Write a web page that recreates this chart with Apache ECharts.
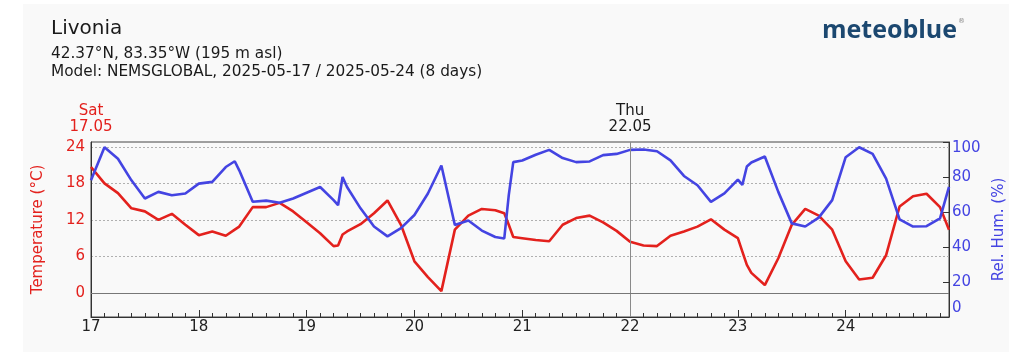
<!DOCTYPE html>
<html>
<head>
<meta charset="utf-8">
<script src="https://cdn.jsdelivr.net/npm/echarts@6/dist/echarts.min.js"></script>
<style>
  html, body { margin: 0; padding: 0; background: #ffffff; }
  #card { position: absolute; left: 23px; top: 4px; width: 986px; height: 348px; background: #f9f9f9; }
  #chart { position: absolute; left: 0; top: 0; width: 1024px; height: 352px; }
</style>
</head>
<body>
<div id="card"></div>
<div id="chart"></div>
<script>
// hours since 2025-05-17 00:00
var hours = [0, 3, 6, 9, 12, 15, 18, 21, 24, 27, 30, 32, 33, 36, 39, 42, 45, 48, 51, 54, 55, 56,
    57, 60, 63, 66, 69, 72, 75, 78, 81, 84, 87, 90, 92, 93, 94,
    96, 99, 102, 105, 108, 111, 114, 117, 120, 123, 126, 129, 132, 135, 138, 141, 144, 145, 146,
    147, 150, 153, 156, 159, 162, 165, 168, 171, 174, 177, 180, 183, 186, 189, 191];
var temperature = [20.7, 18.0, 16.4, 13.9, 13.4, 12.0, 13.0, 11.2, 9.5, 10.1, 9.4, 10.4, 10.9, 14.1, 14.1, 14.8, 13.4, 11.6, 9.8, 7.7, 7.8, 9.6,
    10.1, 11.3, 13.1, 15.2, 11.2, 5.2, 2.6, 0.3, 10.4, 12.7, 13.8, 13.6, 13.1, 11.2, 9.2,
    9.0, 8.7, 8.5, 11.2, 12.3, 12.7, 11.6, 10.2, 8.4, 7.8, 7.7, 9.4, 10.1, 10.9, 12.1, 10.4, 9.0, 6.8, 4.6,
    3.3, 1.3, 5.7, 11.2, 13.8, 12.7, 10.4, 5.2, 2.2, 2.5, 6.2, 14.2, 15.9, 16.3, 14.1, 10.4];
var humidity = [78.1, 97.0, 90.4, 78.1, 67.7, 71.5, 69.6, 70.6, 76.2, 77.2, 85.7, 89.0, 83.8, 65.9, 66.5, 65.3, 67.7, 71.0, 74.3, 66.8, 63.9, 80.0,
    74.3, 62.1, 51.7, 46.1, 50.8, 58.3, 70.6, 86.6, 52.6, 55.1, 49.4, 45.7, 44.9, 69.6, 88.5,
    89.4, 92.7, 95.5, 90.8, 88.5, 88.9, 92.5, 93.2, 95.5, 95.7, 94.7, 89.5, 80.6, 75.3, 65.8, 70.6, 78.5, 75.5, 86.0,
    88.3, 91.7, 71.5, 53.5, 51.7, 56.8, 66.8, 91.3, 97.0, 93.2, 79.1, 55.8, 51.7, 51.9, 56.4, 74.4];

var tempTicks = [0, 6, 12, 18, 24];
var humTicks = [0, 20, 40, 60, 80, 100];
var firstDay = 17;
var topLabelHours = [0, 120];
var topLabelDays = ['Sat', 'Thu'];
var topLabelDates = ['17.05', '22.05'];

var RED = '#e3211d';
var BLUE = '#4444e2';

var tempData = hours.map(function (h, i) { return [h, temperature[i]]; });
var humData = hours.map(function (h, i) { return [h, humidity[i]]; });

// day markers above the plot: first day in red, "today" with a vertical rule
var dayMarks = topLabelHours.map(function (h, i) {
    return {
        xAxis: h,
        lineStyle: { color: i === 0 ? 'rgba(0,0,0,0)' : '#8a8a8a', width: 1, type: 'solid' },
        label: {
            show: true, position: 'end', distance: 7,
            formatter: topLabelDays[i] + '\n' + topLabelDates[i],
            color: i === 0 ? RED : '#1a1a1a', fontSize: 15, fontFamily: 'DejaVu Sans', lineHeight: 16, align: 'center'
        }
    };
});

var myChart = echarts.init(document.getElementById('chart'));
var option = {
    animation: false,
    graphic: [
        { type: 'text', left: 51, top: 19, style: { text: 'Livonia', font: '20px "DejaVu Sans"', fill: '#1a1a1a' } },
        { type: 'text', left: 51, top: 47, style: { text: '42.37°N, 83.35°W (195 m asl)', font: '15.3px "DejaVu Sans"', fill: '#1a1a1a' } },
        { type: 'text', left: 51, top: 65, style: { text: 'Model: NEMSGLOBAL, 2025-05-17 / 2025-05-24 (8 days)', font: '15.3px "DejaVu Sans"', fill: '#1a1a1a' } },
        { type: 'text', left: 822, top: 18, style: {
            text: '{m|meteoblue}{r|®}',
            rich: {
                m: { font: '700 25px "Open Sans"', fill: '#1c4870' },
                r: { font: '7px "DejaVu Sans"', fill: '#888', verticalAlign: 'top', padding: [0, 0, 14, 1] }
            }
        } }
    ],
    grid: { left: 91, right: 75, top: 142, bottom: 35, show: true, borderColor: '#444', borderWidth: 1 },
    xAxis: {
        type: 'value', min: 0, max: 191, interval: 24,
        axisLine: { show: true, onZero: false, lineStyle: { color: '#333' } },
        axisTick: { show: true, inside: true, length: 7, lineStyle: { color: '#333', width: 1 } },
        minorTick: { show: true, splitNumber: 8, length: 4, lineStyle: { color: '#333', width: 1 } },
        splitLine: { show: false },
        axisLabel: {
            color: '#222', fontSize: 15, fontFamily: 'DejaVu Sans', margin: 3, showMaxLabel: false,
            formatter: function (v) { return v % 24 === 0 ? String(firstDay + v / 24) : ''; }
        }
    },
    yAxis: [{
        type: 'value', min: -3.95, max: 24.8, position: 'left',
        name: 'Temperature (°C)', nameLocation: 'middle', nameGap: 45, nameRotate: 90,
        nameTextStyle: { color: RED, fontSize: 15, fontFamily: 'DejaVu Sans' },
        axisLine: { show: true, onZero: false, lineStyle: { color: '#333' } },
        axisTick: { show: false, customValues: [6, 12, 18, 24] },
        axisLabel: { customValues: tempTicks, color: RED, fontSize: 15, fontFamily: 'DejaVu Sans', margin: 6 },
        splitLine: { show: true, lineStyle: { color: '#b0b0b0', type: [2, 2], width: 1 } }
    }, {
        type: 'value', min: 0, max: 100, interval: 20, position: 'right',
        name: 'Rel. Hum. (%)', nameLocation: 'middle', nameGap: 40, nameRotate: 90,
        nameTextStyle: { color: BLUE, fontSize: 15, fontFamily: 'DejaVu Sans' },
        axisLine: { show: true, onZero: false, lineStyle: { color: '#333' } },
        axisTick: { show: true, inside: true, length: 6, lineStyle: { color: '#333' } },
        splitLine: { show: false },
        axisLabel: {
            color: BLUE, fontSize: 15, fontFamily: 'DejaVu Sans', margin: 3,
            formatter: function (v) {
                if (v === humTicks[humTicks.length - 1]) return '{t|' + v + '}';
                if (v === humTicks[0]) return '{b|' + v + '}';
                return String(v);
            },
            rich: {
                t: { color: BLUE, fontSize: 15, fontFamily: 'DejaVu Sans', padding: [12, 0, 0, 0] },
                b: { color: BLUE, fontSize: 15, fontFamily: 'DejaVu Sans', padding: [0, 0, 18, 0] }
            }
        }
    }],
    series: [{
        name: 'Temperature', type: 'line', xAxisIndex: 0, yAxisIndex: 0,
        data: tempData, showSymbol: false, smooth: false,
        lineStyle: { color: RED, width: 2.6 }, itemStyle: { color: RED },
        markLine: {
            silent: true, symbol: ['none', 'none'],
            label: { show: false },
            data: dayMarks.concat([
                { yAxis: 0, lineStyle: { color: '#777', width: 1, type: 'solid' }, label: { show: false } }
            ])
        }
    }, {
        name: 'Rel. Hum.', type: 'line', xAxisIndex: 0, yAxisIndex: 1,
        data: humData, showSymbol: false, smooth: false,
        lineStyle: { color: BLUE, width: 2.6 }, itemStyle: { color: BLUE }
    }]
};
myChart.setOption(option);
</script>
</body>
</html>
